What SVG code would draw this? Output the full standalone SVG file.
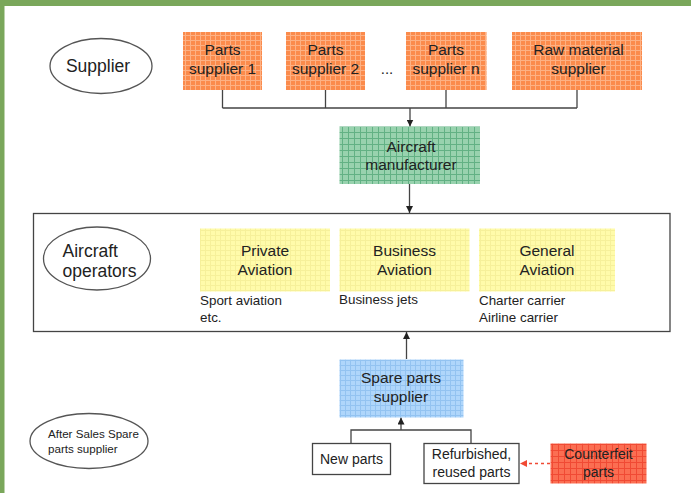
<svg xmlns="http://www.w3.org/2000/svg" width="691" height="493" viewBox="0 0 691 493">
<defs>
<pattern id="pOrange" width="5" height="5" patternUnits="userSpaceOnUse">
<rect width="5" height="5" fill="#fb8b4c"/>
<path d="M0 0.5H5M0.5 0V5" stroke="#fdb184" stroke-width="1"/>
</pattern>
<pattern id="pGreen" width="6" height="6" patternUnits="userSpaceOnUse">
<rect width="6" height="6" fill="#98d2ae"/>
<path d="M0 0.5H6M0.5 0V6" stroke="#62b184" stroke-width="1"/>
</pattern>
<pattern id="pYellow" width="5" height="5" patternUnits="userSpaceOnUse">
<rect width="5" height="5" fill="#fffbaa"/>
<path d="M0 0.5H5M0.5 0V5" stroke="#f6f09a" stroke-width="1"/>
</pattern>
<pattern id="pBlue" width="5" height="5" patternUnits="userSpaceOnUse">
<rect width="5" height="5" fill="#afd6fb"/>
<path d="M0 0.5H5M0.5 0V5" stroke="#93c3f1" stroke-width="1"/>
</pattern>
<pattern id="pRed" width="6" height="6" patternUnits="userSpaceOnUse">
<rect width="6" height="6" fill="#fb6e52"/>
<path d="M0 0.5H6M0.5 0V6" stroke="#f04a34" stroke-width="1"/>
</pattern>
<marker id="arr" viewBox="0 0 10 10" refX="10" refY="5" markerWidth="7" markerHeight="7" markerUnits="userSpaceOnUse" orient="auto">
<path d="M0 0L10 5L0 10z" fill="#222"/>
</marker>
<marker id="arrRed" viewBox="0 0 10 10" refX="10" refY="5" markerWidth="7" markerHeight="7" markerUnits="userSpaceOnUse" orient="auto">
<path d="M0 0L10 5L0 10z" fill="#f04a34"/>
</marker>
</defs>
<style>
text{font-family:"Liberation Sans",Arial,sans-serif;fill:#222;}
.lbl{font-size:15.5px;text-anchor:middle;}
.sub{font-size:13.4px;}
.sm{font-size:14px;text-anchor:middle;}
.big{font-size:17.5px;}
.conn{stroke:#444;stroke-width:1.3;fill:none;}
.ell{fill:#fff;stroke:#555;stroke-width:1.3;}
.wbox{fill:#fff;stroke:#444;stroke-width:1.3;}
</style>
<rect x="0" y="0" width="691" height="493" fill="#fff"/>
<rect x="0" y="0" width="691" height="6" fill="#7aa75b"/>
<rect x="0" y="0" width="4.5" height="493" fill="#7aa75b"/>

<g id="operators-frame">
<rect x="33.5" y="213.5" width="636.5" height="118" fill="#fff" stroke="#444" stroke-width="1.3"/>
</g>

<g id="connectors">
<path class="conn" d="M222.5 90V108M325.5 90V108M446 90V108M577 90V108M222.5 108H577"/>
<path class="conn" d="M410 108V126.5" marker-end="url(#arr)"/>
<path class="conn" d="M409.5 184V213" marker-end="url(#arr)"/>
<path class="conn" d="M406.5 359V332" marker-end="url(#arr)"/>
<path class="conn" d="M351 443V430H471V443"/>
<path class="conn" d="M401 430V417.5" marker-end="url(#arr)"/>
<path d="M550 463.5H520" stroke="#f04a34" stroke-width="1.3" stroke-dasharray="3,3" fill="none" marker-end="url(#arrRed)"/>
</g>

<g id="supplier">
<ellipse class="ell" cx="101" cy="66" rx="51" ry="27.5"/>
<text class="big" x="98" y="72" text-anchor="middle">Supplier</text>
</g>

<g id="parts-supplier-1">
<rect x="183" y="32" width="79" height="58" fill="url(#pOrange)"/>
<text class="lbl" x="222.5" y="54.5">Parts</text>
<text class="lbl" x="222.5" y="73.5">supplier 1</text>
</g>
<g id="parts-supplier-2">
<rect x="286" y="32" width="79" height="58" fill="url(#pOrange)"/>
<text class="lbl" x="325.5" y="54.5">Parts</text>
<text class="lbl" x="325.5" y="73.5">supplier 2</text>
</g>
<g id="ellipsis">
<text x="387" y="74" style="font-size:15px;text-anchor:middle">...</text>
</g>
<g id="parts-supplier-n">
<rect x="406" y="32" width="80.5" height="58" fill="url(#pOrange)"/>
<text class="lbl" x="446" y="54.5">Parts</text>
<text class="lbl" x="446" y="73.5">supplier n</text>
</g>
<g id="raw-material-supplier">
<rect x="512" y="32" width="130" height="58" fill="url(#pOrange)"/>
<text class="lbl" x="578.5" y="54.5">Raw material</text>
<text class="lbl" x="578.5" y="73.5">supplier</text>
</g>

<g id="aircraft-manufacturer">
<rect x="339.5" y="126.5" width="140.5" height="57.5" fill="url(#pGreen)"/>
<text class="lbl" x="411" y="151.5">Aircraft</text>
<text class="lbl" x="411" y="170">manufacturer</text>
</g>

<g id="aircraft-operators">
<ellipse class="ell" cx="97" cy="258.5" rx="53.5" ry="31.5"/>
<text class="big" x="62.5" y="256.5">Aircraft</text>
<text class="big" x="62.5" y="276.5">operators</text>
</g>

<g id="private-aviation">
<rect x="200" y="228.5" width="130" height="63" fill="url(#pYellow)"/>
<text class="lbl" x="265" y="256">Private</text>
<text class="lbl" x="265" y="275">Aviation</text>
<text class="sub" x="200" y="305">Sport aviation</text>
<text class="sub" x="200" y="321.5">etc.</text>
</g>
<g id="business-aviation">
<rect x="339.5" y="228.5" width="130" height="63" fill="url(#pYellow)"/>
<text class="lbl" x="404.5" y="256">Business</text>
<text class="lbl" x="404.5" y="275">Aviation</text>
<text class="sub" x="339" y="304">Business jets</text>
</g>
<g id="general-aviation">
<rect x="479" y="228.5" width="136" height="63" fill="url(#pYellow)"/>
<text class="lbl" x="547" y="256">General</text>
<text class="lbl" x="547" y="275">Aviation</text>
<text class="sub" x="479" y="305">Charter carrier</text>
<text class="sub" x="479" y="321.5">Airline carrier</text>
</g>

<g id="spare-parts-supplier">
<rect x="339.5" y="359.5" width="124" height="58" fill="url(#pBlue)"/>
<text class="lbl" x="401" y="383">Spare parts</text>
<text class="lbl" x="401" y="401.5">supplier</text>
</g>

<g id="after-sales">
<ellipse class="ell" cx="89" cy="441" rx="59" ry="27.5"/>
<text x="48" y="438" style="font-size:11.6px">After Sales Spare</text>
<text x="48" y="452.5" style="font-size:11.6px">parts supplier</text>
</g>

<g id="new-parts">
<rect class="wbox" x="312.5" y="443.5" width="78" height="31"/>
<text class="sm" x="351.5" y="464">New parts</text>
</g>
<g id="refurbished-parts">
<rect class="wbox" x="424" y="443.5" width="95" height="40"/>
<text class="sm" x="471.5" y="459">Refurbished,</text>
<text class="sm" x="471.5" y="476.5">reused parts</text>
</g>
<g id="counterfeit-parts">
<rect x="550.5" y="443.5" width="96" height="40" fill="url(#pRed)"/>
<text class="sm" x="598.5" y="459">Counterfeit</text>
<text class="sm" x="598.5" y="476.5">parts</text>
</g>
</svg>
